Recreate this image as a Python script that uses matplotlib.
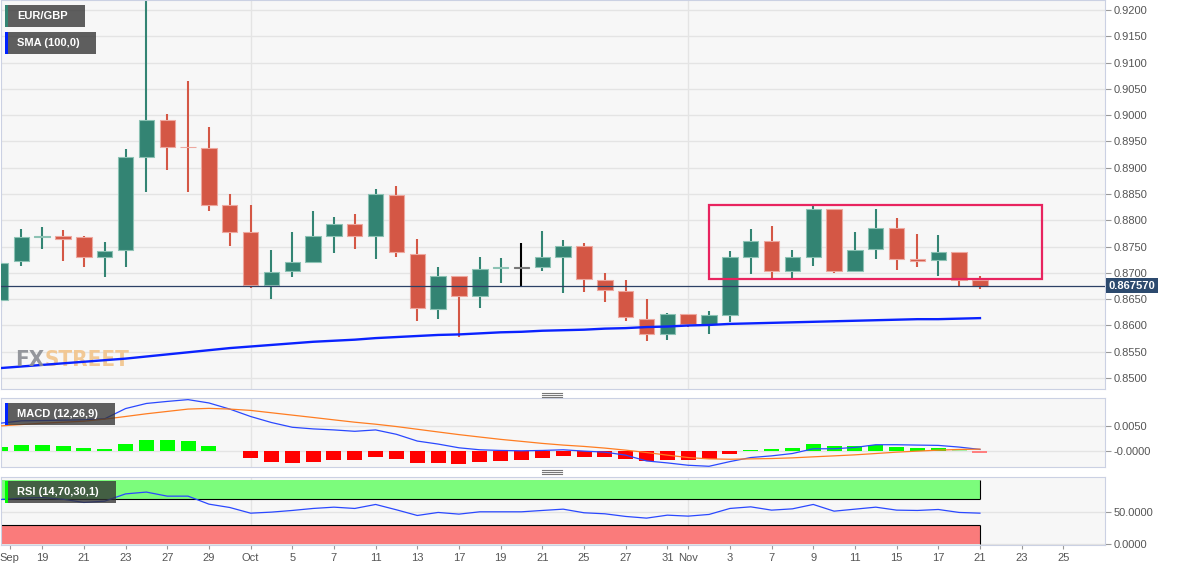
import numpy as np
import matplotlib
matplotlib.use('Agg')
import matplotlib.pyplot as plt
from matplotlib.patches import Rectangle
from matplotlib.lines import Line2D

plt.rcParams['font.family'] = ['Liberation Sans', 'DejaVu Sans']

# EUR/GBP daily candles, trading days Sep 15 .. Nov 21 (index 0 = Sep 19)
first_day = -2
opens = [0.8648, 0.8723, 0.8769, 0.8771, 0.8769, 0.8730, 0.8744, 0.8921, 0.8991, 0.8940,
         0.8937, 0.8829, 0.8778, 0.8677, 0.8704, 0.8721, 0.8771, 0.8793, 0.8771, 0.8849,
         0.8735, 0.8631, 0.8695, 0.8657, 0.8710, 0.8711, 0.8711, 0.8730, 0.8752, 0.8687,
         0.8666, 0.8613, 0.8583, 0.8621, 0.8602, 0.8620, 0.8730, 0.8760, 0.8703, 0.8730,
         0.8821, 0.8704, 0.8746, 0.8786, 0.8727, 0.8724, 0.8740, 0.8687]
highs = [0.8722, 0.8783, 0.8787, 0.8782, 0.8770, 0.8758, 0.8936, 0.9267, 0.9002, 0.9065,
         0.8978, 0.8850, 0.8829, 0.8744, 0.8777, 0.8818, 0.8807, 0.8812, 0.8860, 0.8865,
         0.8765, 0.8712, 0.8695, 0.8730, 0.8728, 0.8756, 0.8779, 0.8762, 0.8756, 0.8699,
         0.8687, 0.8650, 0.8624, 0.8622, 0.8628, 0.8741, 0.8783, 0.8789, 0.8743, 0.8829,
         0.8821, 0.8778, 0.8821, 0.8805, 0.8774, 0.8772, 0.8740, 0.8695]
lows = [0.8636, 0.8714, 0.8746, 0.8723, 0.8712, 0.8692, 0.8711, 0.8853, 0.8896, 0.8853,
        0.8818, 0.8752, 0.8671, 0.8650, 0.8692, 0.8718, 0.8737, 0.8745, 0.8726, 0.8730,
        0.8609, 0.8612, 0.8578, 0.8633, 0.8681, 0.8673, 0.8704, 0.8662, 0.8664, 0.8645,
        0.8609, 0.8571, 0.8573, 0.8597, 0.8584, 0.8607, 0.8698, 0.8688, 0.8688, 0.8714,
        0.8699, 0.8704, 0.8726, 0.8706, 0.8711, 0.8694, 0.8675, 0.8669]
closes = [0.8719, 0.8769, 0.8771, 0.8764, 0.8730, 0.8742, 0.8920, 0.8991, 0.8939, 0.8939,
          0.8830, 0.8778, 0.8677, 0.8702, 0.8721, 0.8770, 0.8793, 0.8771, 0.8850, 0.8740,
          0.8633, 0.8695, 0.8657, 0.8707, 0.8711, 0.8710, 0.8730, 0.8752, 0.8688, 0.8667,
          0.8616, 0.8583, 0.8621, 0.8602, 0.8619, 0.8730, 0.8760, 0.8704, 0.8730, 0.8821,
          0.8704, 0.8744, 0.8786, 0.8727, 0.8723, 0.8740, 0.8687, 0.86757]
sma100 = [0.8519, 0.8522, 0.8525, 0.8528, 0.8531, 0.8534, 0.8537, 0.8541, 0.8545, 0.8549,
          0.8553, 0.8557, 0.8560, 0.8563, 0.8566, 0.8569, 0.8571, 0.8573, 0.8576, 0.8578,
          0.8580, 0.8582, 0.8583, 0.8585, 0.8587, 0.8588, 0.8590, 0.8591, 0.8592, 0.8594,
          0.8595, 0.8597, 0.8598, 0.8600, 0.8601, 0.8603, 0.8604, 0.8605, 0.8606, 0.8607,
          0.8608, 0.8609, 0.8610, 0.8611, 0.8612, 0.8612, 0.8613, 0.8614]
macd_line = [0.00554, 0.0060, 0.00606, 0.00613, 0.0062, 0.0064, 0.0084, 0.0094, 0.0098, 0.01015,
             0.0095, 0.0083, 0.00685, 0.00567, 0.00474, 0.00442, 0.00422, 0.00395, 0.00422, 0.00336,
             0.00204, 0.00145, 0.00072, 0.00033, 0.0002, 0.00013, 0.0002, 0.00033, 0.00007, -0.00013,
             -0.00072, -0.00185, -0.00224, -0.0027, -0.0029, -0.00198, -0.00119, -0.00086, -0.0004, 0.00053,
             0.00053, 0.00079, 0.00132, 0.00132, 0.00125, 0.00119, 0.00086, 0.0004]
macd_signal = [0.0050, 0.00527, 0.00554, 0.00573, 0.00593, 0.00633, 0.00685, 0.00738, 0.00784, 0.0083,
               0.00844, 0.0083, 0.00804, 0.00758, 0.00712, 0.00666, 0.00619, 0.00573, 0.00534, 0.00488,
               0.00435, 0.00382, 0.0033, 0.00283, 0.00237, 0.00198, 0.00158, 0.00125, 0.00099, 0.00066,
               0.00026, -0.0002, -0.00072, -0.00119, -0.00145, -0.00152, -0.00145, -0.00138, -0.00125, -0.00105,
               -0.00086, -0.00066, -0.0004, -0.00013, 0.00007, 0.00026, 0.0004, 0.00046]
macd_hist = [0.00079, 0.00119, 0.00125, 0.00112, 0.00073, 0.00046, 0.00138, 0.00224, 0.00224, 0.00204,
             0.00112, 0.0001, -0.00125, -0.00198, -0.00217, -0.00204, -0.00171, -0.00158, -0.00099, -0.00138,
             -0.00217, -0.00224, -0.00244, -0.00211, -0.00184, -0.00158, -0.00125, -0.00079, -0.00099, -0.00105,
             -0.00145, -0.00178, -0.00165, -0.00165, -0.00138, -0.0004, 0.00026, 0.00046, 0.00073, 0.00145,
             0.00105, 0.00105, 0.00125, 0.00086, 0.00066, 0.0006, 0.0004, -0.00026]
rsi = [69.1, 71.2, 72.2, 69.5, 64.5, 66.5, 77.8, 80.6, 74.3, 74.3,
       61.9, 56.7, 47.9, 49.5, 52.1, 55.2, 57.2, 55.2, 61.4, 53.1,
       44.3, 49.0, 46.4, 50.0, 50.0, 50.0, 52.1, 54.1, 48.5, 46.9,
       42.8, 40.2, 44.8, 43.3, 45.9, 55.2, 57.7, 52.6, 54.6, 61.4,
       51.0, 54.1, 57.2, 52.6, 52.1, 53.6, 49.0, 47.9]

tick_pos = [-1.55, 0, 2, 4, 6, 8, 10, 12, 14, 16, 18, 20, 22, 24, 26, 28, 30, 31,
            33, 35, 37, 39, 41, 43, 45, 47, 49]
tick_labels = ['Sep', '19', '21', '23', '27', '29', 'Oct', '5', '7', '11', '13', '17', '19',
               '21', '25', '27', '31', 'Nov', '3', '7', '9', '11', '15', '17', '21', '23', '25']
month_starts = [10, 31]
last_price = 0.867570
range_days = (32, 48)
range_prices = (0.8688, 0.8830)

W, H = 1182, 571
GREEN, RED = '#338473', '#d45745'
GRID = '#e4e4e4'
SPINE = '#cbd1e3'
TXT = '#555555'

x = np.arange(first_day, first_day + len(opens))
o, h, l, c = map(np.array, (opens, highs, lows, closes))

fig = plt.figure(figsize=(W / 100, H / 100), dpi=100)


def px_rect(x0, y0, x1, y1):
    return [x0 / W, 1 - y1 / H, (x1 - x0) / W, (y1 - y0) / H]


ax = fig.add_axes(px_rect(0.5, 0, 1105, 389))
ax_macd = fig.add_axes(px_rect(0.5, 398, 1105, 467), sharex=ax)
ax_rsi = fig.add_axes(px_rect(0.5, 477, 1105, 545), sharex=ax)

for a in (ax, ax_macd, ax_rsi):
    a.set_facecolor('#f7f7f7')
    a.set_axisbelow(True)
    for s in a.spines.values():
        s.set_color(SPINE)
    a.yaxis.tick_right()
    a.tick_params(axis='y', length=4, width=0.8, color='#999999', labelsize=8, labelcolor=TXT, pad=2)
    a.tick_params(axis='x', length=3, width=0.8, color='#999999', labelsize=8, labelcolor=TXT, pad=3)
    a.grid(axis='y', color=GRID, lw=1)
    for m in month_starts:
        a.axvline(m, color=GRID, lw=1, zorder=0.5)
ax.tick_params(axis='x', bottom=False, labelbottom=False)
ax_macd.tick_params(axis='x', bottom=False, labelbottom=False)

# --- price panel ---
up = c >= o
body = np.where(up, GREEN, RED).astype(object)
edge = np.where(up, '#8cc2b4', '#eda89f').astype(object)
wick = body.copy()
hl = x == 23  # Oct 20 candle is drawn highlighted
wick[hl] = 'black'
body[hl] = '#777777'
edge[hl] = '#777777'
ax.vlines(x, l, h, colors=list(wick), lw=1.5, zorder=2)
ax.bar(x, c - o, bottom=o, width=0.74, color=list(body), edgecolor=list(edge), lw=0.8, zorder=3)
ax.plot(x, sma100, color='#0a22ff', lw=1.7, zorder=4)
ax.axhline(last_price, color='#2d4166', lw=0.9, zorder=5)
ax.add_patch(Rectangle((range_days[0], range_prices[0]), range_days[1] - range_days[0],
                       range_prices[1] - range_prices[0], fill=False, ec='#e8245f', lw=1.6, zorder=6))
ax.text(1.003, last_price, f'{last_price:.6f}', transform=ax.get_yaxis_transform(),
        ha='left', va='center', color='white', fontsize=8, fontweight='bold', clip_on=False,
        bbox=dict(boxstyle='square,pad=0.25', fc='#2c4a6e', ec='none'), zorder=7)
ax.set_ylim(0.84792, 0.9219)
ax.set_yticks(np.arange(0.85, 0.92001, 0.005))
ax.set_yticklabels([f'{v:.4f}' for v in np.arange(0.85, 0.92001, 0.005)])
ax.set_xlim(-2, 51)

# watermark
wm = dict(fontsize=16, fontweight='bold', family=['DejaVu Sans'], fontstretch='condensed', alpha=0.9)
fx = fig.text(15 / W, 1 - 370 / H, 'FX', color='#8a8d93', va='bottom', **wm)
ax.annotate('STREET', xy=(1, 0), xycoords=fx, va='bottom', ha='left', color='#f2c48a',
            annotation_clip=False, **wm)

# --- MACD panel ---
hist = np.array(macd_hist)
hcol = np.where(hist >= 0, '#00ff00', '#ff0000').astype(object)
for d, col in ((9, '#b6f0b6'), (44, '#a8eea8'), (45, '#ff8080')):
    hcol[x == d] = col
ax_macd.bar(x, hist, width=0.72, color=list(hcol), zorder=2)
ax_macd.plot(x, macd_line, color='#2a48ff', lw=0.9, zorder=3)
ax_macd.plot(x, macd_signal, color='#ff7d22', lw=0.9, zorder=3)
ax_macd.set_ylim(-0.00304, 0.01047)
ax_macd.set_yticks([0, 0.005], ['-0.0000', '0.0050'])

# --- RSI panel ---
ax_rsi.fill_between([first_day - 1, x[-1]], 70, 100, color='#7cfc7c', lw=0, zorder=1)
ax_rsi.fill_between([first_day - 1, x[-1]], 0, 30, color='#fa7b7b', lw=0, zorder=1)
ax_rsi.hlines([70, 30], first_day - 1, x[-1], color='black', lw=0.8, zorder=2)
ax_rsi.vlines([x[-1], x[-1]], [70, 0], [100, 30], color='black', lw=0.8, zorder=2)
ax_rsi.plot(x, rsi, color='#2a48ff', lw=0.9, zorder=3)
ax_rsi.set_ylim(-1.5, 104)
ax_rsi.set_yticks([0, 50], ['0.0000', '50.0000'])
ax_rsi.set_xticks(tick_pos, tick_labels)


# --- indicator labels ---
def label_box(x0, y0, x1, y1, bar_color, text):
    fig.add_artist(Rectangle((x0 / W, 1 - y1 / H), (x1 - x0) / W, (y1 - y0) / H,
                             transform=fig.transFigure, fc='#333333', alpha=0.78, ec='none', zorder=5))
    fig.add_artist(Rectangle((x0 / W, 1 - y1 / H), 2.5 / W, (y1 - y0) / H,
                             transform=fig.transFigure, fc=bar_color, ec='none', zorder=6))
    fig.text((x0 + 12) / W, 1 - (y0 + y1) / 2 / H, text, color='white', fontsize=8,
             fontweight='bold', va='center', ha='left', zorder=7)


label_box(5, 5, 85, 27, GREEN, 'EUR/GBP')
label_box(5, 32, 96, 54, '#0022ff', 'SMA (100,0)')
label_box(5, 403, 115, 425, '#0022ff', 'MACD (12,26,9)')
label_box(5, 481, 116, 503, '#00ff00', 'RSI (14,70,30,1)')

# panel resize handles
for yc in (394.7, 472.3):
    for dy in (-2, 0, 2):
        fig.add_artist(Line2D([542 / W, 562 / W], [1 - (yc + dy) / H] * 2, color='#777777', lw=0.8))

fig.savefig('out.png', dpi=100, facecolor='white')
